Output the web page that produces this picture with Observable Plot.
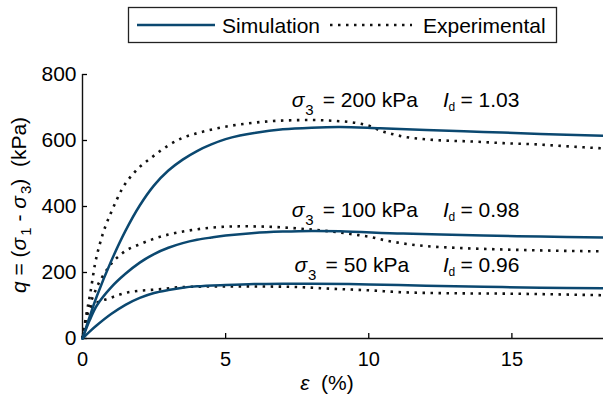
<!DOCTYPE html>
<html><head><meta charset="utf-8">
<script src="https://cdn.jsdelivr.net/npm/d3@7"></script>
<script src="https://cdn.jsdelivr.net/npm/@observablehq/plot@0.6"></script>
<style>
body{margin:0;background:#fff;font-family:"Liberation Sans",Arial,Helvetica,sans-serif;}
#legend,#chart svg{display:block}
</style></head><body>
<svg id="legend" width="603" height="50" font-family="'Liberation Sans', Arial, sans-serif">
  <rect x="128.5" y="7.5" width="428" height="35" fill="white" stroke="#222" stroke-width="1.3"/>
  <line x1="137" x2="215" y1="25" y2="25" stroke="#0b4870" stroke-width="2.5"/>
  <text x="222" y="32.5" font-size="21">Simulation</text>
  <line x1="330" x2="412" y1="25" y2="25" stroke="#111" stroke-width="2.6" stroke-dasharray="2.5,5.5"/>
  <text x="423" y="32.5" font-size="21">Experimental</text>
</svg>
<div id="chart"></div>
<script>
// ---- data ----
const sim200Strain = [0, 0.25, 0.5, 1.0, 1.5, 2.0, 2.5, 3.0, 3.5, 4.0, 4.5, 5.0, 5.5, 6.0, 7.0, 8.0, 9.0, 10.4, 12, 14, 16, 18.2];
const sim200Q      = [0, 66, 128, 234, 326, 403, 464, 509, 542, 568, 588, 604, 615, 623, 634, 639, 641, 637, 632, 626, 620, 614];
const sim100Strain = [0, 0.25, 0.5, 1.0, 1.5, 2.0, 2.5, 3.0, 3.5, 4.0, 4.5, 5.0, 6.0, 7.0, 8.0, 9.0, 11.2, 14, 16, 18.2];
const sim100Q      = [0, 55, 100, 155, 196, 230, 256, 275, 289, 299, 306, 312, 320, 324, 326, 325, 318, 312, 309, 306];
const sim50Strain  = [0, 0.25, 0.5, 1.0, 1.5, 2.0, 2.5, 3.0, 3.5, 4.0, 5.0, 6.0, 7.0, 8.0, 10, 12, 14, 16, 18.2];
const sim50Q       = [0, 21, 40, 74, 102, 123, 138, 147, 154, 158, 162, 165, 166, 166, 164, 160, 157, 154, 152];

const exp200Strain = [0, 0.15, 0.27, 0.44, 0.6, 0.8, 1.03, 1.37, 1.84, 2.42, 3.0, 3.5, 4.0, 4.6, 5.2, 5.8, 6.5, 7.2, 8.0, 8.7, 9.7, 10.1, 10.4, 10.8, 11.2, 11.8, 12.6, 13.6, 14.7, 15.9, 17, 18.2];
const exp200Q      = [0, 80, 136, 227, 285, 340, 388, 451, 506, 549, 585, 608, 622, 635, 645, 652, 658, 661, 662, 660, 651, 642, 630, 620, 612, 605, 600, 597, 592, 588, 582, 576];
const exp100Strain = [0, 0.1, 0.2, 0.45, 0.91, 1.4, 2.1, 3.0, 3.7, 4.5, 5.6, 6.9, 8.0, 8.9, 9.5, 10.1, 10.6, 11.2, 12, 13, 15, 18.2];
const exp100Q      = [0, 50, 85, 145, 216, 259, 289, 315, 327, 336, 340, 337, 330, 322, 315, 307, 297, 288, 280, 275, 269, 264];
const exp50Strain  = [0, 0.1, 0.25, 0.5, 0.91, 1.6, 2.8, 3.5, 5, 7, 8.9, 10, 11.2, 13, 14.7, 18.2];
const exp50Q       = [0, 50, 90, 108, 121, 140, 150, 156, 158, 157, 150, 146, 140, 137, 136, 131];

const sigma3Values = [200, 100, 50];
const densityIndex = ["1.03", "0.98", "0.96"];
// label anchor positions in data units (strain %, q kPa)
const labelSigmaStrain = [7.31, 7.31, 7.41];
const labelIdStrain = [12.59, 12.59, 12.59];
const labelQ = [721, 388, 221];

const xTicks = [0, 5, 10, 15];
const yTicks = [0, 200, 400, 600, 800];

// ---- build tables ----
const toRows = (xs, ys, series) => xs.map((x, i) => ({strain: x, q: ys[i], series}));
const simRows = [
  ...toRows(sim200Strain, sim200Q, "200"),
  ...toRows(sim100Strain, sim100Q, "100"),
  ...toRows(sim50Strain, sim50Q, "50")
];
const expRows = [
  ...toRows(exp200Strain, exp200Q, "200"),
  ...toRows(exp100Strain, exp100Q, "100"),
  ...toRows(exp50Strain, exp50Q, "50")
];
const ann = sigma3Values.map((s, i) => ({s, id: densityIndex[i], sx: labelSigmaStrain[i], ix: labelIdStrain[i], q: labelQ[i]}));

const simColor = "#0b4870";
const font = "'Liberation Sans', Arial, Helvetica, sans-serif";

const chart = Plot.plot({
  width: 603,
  height: 347,
  marginLeft: 82,
  marginRight: 0,
  marginTop: 24,
  marginBottom: 59,
  x: {domain: [0, 18.2]},
  y: {domain: [0, 800]},
  style: {fontFamily: font, fontSize: "21px", color: "#000", background: "#fff", overflow: "visible"},
  marks: [
    Plot.axisX({ticks: xTicks, tickSize: -5, tickPadding: 18, label: null, fontSize: 20, strokeWidth: 1.3}),
    Plot.axisY({ticks: yTicks, tickSize: -5, tickPadding: 11, label: null, fontSize: 21, strokeWidth: 1.3}),
    Plot.ruleX([0], {stroke: "#111", strokeWidth: 1.4}),
    Plot.ruleY([0], {stroke: "#111", strokeWidth: 1.4}),
    Plot.line(expRows, {x: "strain", y: "q", z: "series", stroke: "#111", strokeWidth: 2.6,
      strokeDasharray: "2.5,5.5", strokeLinecap: "butt", curve: "monotone-x"}),
    Plot.line(simRows, {x: "strain", y: "q", z: "series", stroke: simColor, strokeWidth: 2.5, curve: "catmull-rom"}),
    Plot.text(ann, {x: "sx", y: "q", text: () => "σ", textAnchor: "start", fontStyle: "italic", fontSize: 21}),
    Plot.text(ann, {x: "sx", y: "q", text: () => "3", textAnchor: "start", dx: 13.5, dy: 10, fontSize: 15}),
    Plot.text(ann, {x: "sx", y: "q", text: d => `= ${d.s} kPa`, textAnchor: "start", dx: 31, fontSize: 21}),
    Plot.text(ann, {x: "ix", y: "q", text: () => "I", textAnchor: "start", fontStyle: "italic", fontSize: 21}),
    Plot.text(ann, {x: "ix", y: "q", text: () => "d", textAnchor: "start", dx: 5.5, dy: 6.5, fontSize: 12}),
    Plot.text(ann, {x: "ix", y: "q", text: d => `= ${d.id}`, textAnchor: "start", dx: 17.5, fontSize: 21})
  ]
});
document.getElementById("chart").appendChild(chart);

const svg = d3.select(chart);
// y-axis title
const yl = svg.append("text")
  .attr("transform", "translate(26,155) rotate(-90)")
  .attr("text-anchor", "middle").attr("font-size", 21).attr("fill", "#000");
yl.append("tspan").attr("font-style", "italic").text("q");
yl.append("tspan").text(" = (");
yl.append("tspan").attr("font-style", "italic").text("σ");
yl.append("tspan").attr("font-size", 15).attr("dx", 2).attr("dy", 5).text("1");
yl.append("tspan").attr("dy", -5).text(" - ");
yl.append("tspan").attr("font-style", "italic").text("σ");
yl.append("tspan").attr("font-size", 15).attr("dx", 2).attr("dy", 5).text("3");
yl.append("tspan").attr("dy", -5).text(")\u00a0\u00a0(kPa)");
// x-axis title
const xl = svg.append("text")
  .attr("x", 327).attr("y", 340)
  .attr("text-anchor", "middle").attr("font-size", 21).attr("fill", "#000");
xl.append("tspan").attr("font-style", "italic").text("ε");
xl.append("tspan").text("\u00a0\u00a0(%)");
</script>
</body></html>
